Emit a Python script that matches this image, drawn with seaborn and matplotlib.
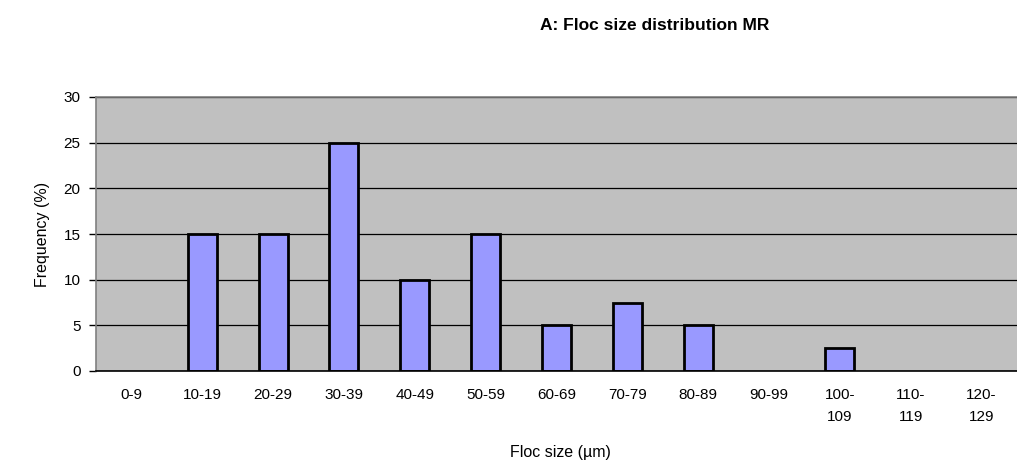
import matplotlib

matplotlib.use("Agg")
import matplotlib.pyplot as plt
import numpy as np
import pandas as pd
import seaborn as sns

CATEGORIES = [
    "0-9", "10-19", "20-29", "30-39", "40-49", "50-59", "60-69",
    "70-79", "80-89", "90-99", "100-\n109", "110-\n119", "120-\n129",
]
FREQUENCY = [0, 15, 15, 25, 10, 15, 5, 7.5, 5, 0, 2.5, 0, 0]
Y_TICKS = [0, 5, 10, 15, 20, 25, 30]

BAR_COLOR = "#9999FF"
PLOT_BG = "#C0C0C0"

sns.set_theme(style="white")
plt.rcParams["font.family"] = ["Liberation Sans", "DejaVu Sans"]
plt.rcParams["text.color"] = "black"
plt.rcParams["xtick.color"] = "black"
plt.rcParams["ytick.color"] = "black"
plt.rcParams["axes.labelcolor"] = "black"

frame = pd.DataFrame({"size": CATEGORIES, "freq": FREQUENCY})

fig = plt.figure(figsize=(10.17, 4.63), dpi=100)
ax = fig.add_axes([96 / 1017, 1 - 371 / 463, (1017 - 96) / 1017, (371 - 97) / 463])
ax.set_facecolor(PLOT_BG)

sns.barplot(
    data=frame, x="size", y="freq", color=BAR_COLOR,
    width=0.41, edgecolor="black", linewidth=2, saturation=1, ax=ax,
)
# empty classes draw nothing
for patch in ax.patches:
    if patch.get_height() == 0:
        patch.set_linewidth(0)

ax.set_ylim(0, 30)
ax.set_xlim(-0.5, len(CATEGORIES) - 0.5)
ax.set_yticks(Y_TICKS)
ax.yaxis.grid(True, color="black", linewidth=0.9)
ax.set_axisbelow(True)

ax.set_xticks(np.arange(len(CATEGORIES)))
ax.set_xticklabels(CATEGORIES, fontsize=11, linespacing=1.8, va="top")
ax.set_xticks(np.arange(len(CATEGORIES) + 1) - 0.5, minor=True)
ax.tick_params(axis="x", which="major", length=0, pad=12)
ax.tick_params(axis="x", which="minor", length=5, width=1, color="black", direction="out")
ax.tick_params(axis="y", length=5, width=1, color="black", direction="out",
               labelsize=11, pad=6, left=True)

for side in ["top", "left"]:
    ax.spines[side].set_color("#808080")
    ax.spines[side].set_linewidth(1.2)
ax.spines["right"].set_visible(False)
ax.spines["bottom"].set_color("black")
ax.spines["bottom"].set_linewidth(1.2)

ax.set_xlabel("")
ax.set_ylabel("Frequency (%)", fontsize=11.5, labelpad=10)

fig.text(655 / 1017, 1 - 26 / 463, "A: Floc size distribution MR",
         ha="center", va="center", fontsize=12.5, fontweight="bold")
fig.text(560 / 1017, 1 - 452 / 463, "Floc size (\u00b5m)",
         ha="center", va="center", fontsize=11.5)

fig.savefig("out.png", dpi=100, facecolor="white")
